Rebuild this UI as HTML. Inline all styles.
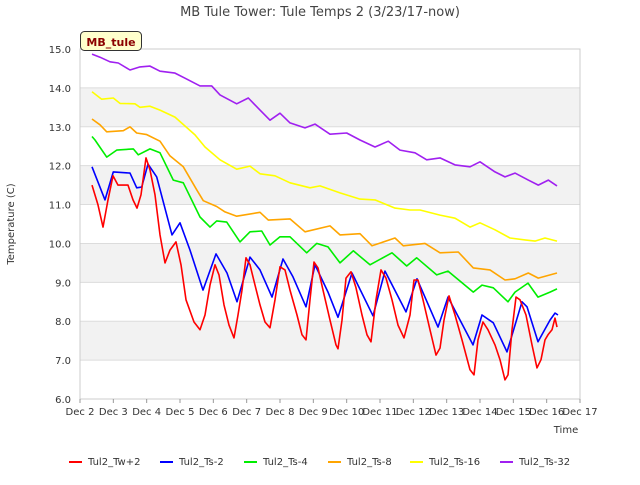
<!DOCTYPE html>
<html><head><meta charset="utf-8"><style>
body{margin:0;background:#fff;font-family:"Liberation Sans","DejaVu Sans",sans-serif}
svg text{font-family:"DejaVu Sans","Liberation Sans",sans-serif}
</style></head><body>
<svg id="c" width="640" height="480" viewBox="0 0 640 480">
<text x="320" y="16" text-anchor="middle" font-size="13" fill="#444">MB Tule Tower: Tule Temps 2 (3/23/17-now)</text>
<g id="plot"></g>
<text x="14" y="224" transform="rotate(-90 14 224)" text-anchor="middle" font-size="10" fill="#333">Temperature (C)</text>
<text x="566" y="433" text-anchor="middle" font-size="10" fill="#333">Time</text>
<g><rect x="80.5" y="31.5" width="61" height="19" rx="4" fill="#ffffcc" stroke="#333"/><text x="111" y="46" text-anchor="middle" font-size="11" font-weight="bold" fill="#8b0000">MB_tule</text></g>
<g id="legend"></g>
</svg>
<script>
const yTicks=[6,7,8,9,10,11,12,13,14,15];
const xTickLabels=["Dec 2","Dec 3","Dec 4","Dec 5","Dec 6","Dec 7","Dec 8","Dec 9","Dec 10","Dec 11","Dec 12","Dec 13","Dec 14","Dec 15","Dec 16","Dec 17"];
const seriesNames=["Tul2_Tw+2","Tul2_Ts-2","Tul2_Ts-4","Tul2_Ts-8","Tul2_Ts-16","Tul2_Ts-32"];
const colors=["#ff0000","#0000ff","#00ee00","#ffa500","#ffff00","#a020f0"];
const twDays=[2.36,2.54,2.69,2.84,2.99,3.14,3.29,3.44,3.59,3.71,3.83,3.98,4.10,4.25,4.40,4.55,4.70,4.88,5.03,5.18,5.42,5.60,5.75,5.90,6.05,6.17,6.32,6.47,6.62,6.74,6.86,6.98,7.10,7.25,7.40,7.55,7.70,7.85,8.00,8.15,8.30,8.51,8.66,8.78,8.90,9.02,9.14,9.29,9.50,9.68,9.74,9.86,9.98,10.13,10.28,10.46,10.61,10.73,10.88,11.03,11.18,11.36,11.54,11.72,11.90,12.02,12.14,12.29,12.50,12.68,12.80,12.92,13.07,13.25,13.46,13.70,13.82,13.94,14.09,14.24,14.45,14.60,14.75,14.84,14.96,15.08,15.20,15.38,15.56,15.71,15.83,15.95,16.04,16.16,16.25,16.31];
const twVals=[11.50,10.99,10.42,11.12,11.74,11.50,11.50,11.50,11.12,10.91,11.25,12.20,11.89,11.25,10.22,9.50,9.83,10.04,9.45,8.55,7.98,7.78,8.16,8.93,9.45,9.19,8.42,7.90,7.57,8.16,8.80,9.63,9.45,8.93,8.42,7.98,7.83,8.55,9.40,9.32,8.80,8.16,7.65,7.52,8.55,9.52,9.37,8.80,8.03,7.39,7.29,8.03,9.11,9.27,8.86,8.16,7.65,7.47,8.55,9.32,9.11,8.55,7.90,7.57,8.16,9.06,9.06,8.55,7.78,7.13,7.31,8.03,8.65,8.16,7.52,6.75,6.62,7.52,7.98,7.78,7.39,7.01,6.49,6.62,7.78,8.62,8.55,8.16,7.39,6.80,7.01,7.52,7.65,7.78,8.08,7.85];
const ts2Days=[2.36,2.75,3.0,3.5,3.7,3.85,4.04,4.3,4.76,5.0,5.3,5.69,6.08,6.41,6.71,7.1,7.4,7.76,8.09,8.39,8.78,9.05,9.44,9.74,10.16,10.79,11.15,11.78,12.11,12.74,13.04,13.79,14.06,14.4,14.81,15.26,15.41,15.74,16.1,16.25,16.34];
const ts2Vals=[11.97,11.12,11.84,11.81,11.43,11.45,12.04,11.71,10.22,10.53,9.83,8.8,9.73,9.24,8.5,9.65,9.32,8.62,9.6,9.14,8.37,9.45,8.75,8.1,9.24,8.14,9.29,8.24,9.09,7.85,8.62,7.39,8.16,7.96,7.21,8.5,8.37,7.47,8.03,8.21,8.16];
const ts4Days=[2.36,2.45,2.8,3.1,3.6,3.75,4.1,4.4,4.8,5.1,5.6,5.9,6.1,6.4,6.8,7.1,7.45,7.7,8.0,8.3,8.8,9.1,9.44,9.8,10.2,10.7,11.36,11.8,12.1,12.7,13.04,13.8,14.06,14.4,14.84,15.05,15.44,15.74,16.1,16.31];
const ts4Vals=[12.75,12.66,12.22,12.4,12.43,12.28,12.43,12.33,11.63,11.56,10.68,10.42,10.58,10.55,10.04,10.3,10.32,9.96,10.17,10.17,9.76,10.0,9.91,9.5,9.81,9.45,9.76,9.42,9.63,9.19,9.29,8.75,8.93,8.86,8.5,8.75,8.98,8.62,8.75,8.83];
const ts8Days=[2.36,2.6,2.8,3.3,3.5,3.7,4.0,4.4,4.7,5.1,5.5,5.7,6.1,6.35,6.7,7.4,7.65,8.3,8.75,9.5,9.8,10.4,10.76,11.45,11.7,12.35,12.8,13.35,13.8,14.3,14.75,15.05,15.45,15.75,16.31];
const ts8Vals=[13.2,13.05,12.87,12.9,13.0,12.84,12.8,12.63,12.25,11.97,11.38,11.1,10.95,10.81,10.7,10.8,10.6,10.63,10.3,10.45,10.22,10.25,9.94,10.14,9.94,10.0,9.76,9.78,9.37,9.32,9.06,9.09,9.24,9.11,9.24];
const ts16Days=[2.36,2.65,3.0,3.2,3.65,3.8,4.1,4.4,4.85,5.45,5.75,6.2,6.7,7.1,7.4,7.85,8.3,8.9,9.2,9.8,10.4,10.85,11.45,11.9,12.2,12.8,13.25,13.7,14.0,14.45,14.9,15.35,15.65,15.95,16.31];
const ts16Vals=[13.9,13.71,13.74,13.6,13.59,13.5,13.53,13.43,13.25,12.79,12.48,12.15,11.91,11.99,11.79,11.74,11.56,11.43,11.48,11.3,11.14,11.12,10.91,10.86,10.86,10.73,10.65,10.42,10.53,10.35,10.14,10.09,10.06,10.14,10.06];
const ts32Days=[2.36,2.6,2.9,3.15,3.5,3.8,4.1,4.4,4.85,5.15,5.6,5.95,6.2,6.7,7.05,7.4,7.7,8.0,8.3,8.75,9.05,9.5,10.0,10.4,10.85,11.25,11.6,12.05,12.4,12.8,13.25,13.7,14.0,14.45,14.75,15.05,15.45,15.75,16.05,16.31];
const ts32Vals=[14.87,14.79,14.67,14.64,14.46,14.54,14.56,14.43,14.38,14.25,14.05,14.05,13.82,13.59,13.74,13.43,13.17,13.35,13.1,12.97,13.07,12.81,12.84,12.66,12.48,12.63,12.4,12.33,12.15,12.2,12.02,11.97,12.1,11.84,11.71,11.81,11.63,11.5,11.63,11.48];
const NS="http://www.w3.org/2000/svg";
const X0=80,X1=580,Y0=399,Y1=49,D0=2,D1=17,V0=6,V1=15;
const sx=d=>X0+(d-D0)/(D1-D0)*(X1-X0);
const sy=v=>Y0-(v-V0)/(V1-V0)*(Y0-Y1);
function mk(t,a,p){const e=document.createElementNS(NS,t);for(const k in a)e.setAttribute(k,a[k]);p.appendChild(e);return e;}
const plot=document.getElementById('plot');
for(let v=7;v<15;v+=2){const r=mk('rect',{x:X0,y:sy(v+1),width:X1-X0,height:sy(v)-sy(v+1),fill:'#f2f2f2'},plot);

}
yTicks.forEach(v=>{const l=mk('line',{x1:X0,x2:X1,y1:sy(v),y2:sy(v),stroke:'#dcdcdc'},plot);


const t=mk('text',{x:X0-9,y:sy(v)+4,'text-anchor':'end','font-size':'10',fill:'#333'},plot);t.textContent=v.toFixed(1);

});
const fr=mk('rect',{x:X0,y:Y1,width:X1-X0,height:Y0-Y1,fill:'none',stroke:'#ccc'},plot);


xTickLabels.forEach((s,i)=>{const x=sx(D0+i);mk('line',{x1:x,x2:x,y1:Y0,y2:Y0+4,stroke:'#999'},plot);
const t=mk('text',{x:x,y:Y0+16,'text-anchor':'middle','font-size':'10',fill:'#333'},plot);t.textContent=s;

});
const allDays=[twDays,ts2Days,ts4Days,ts8Days,ts16Days,ts32Days];
const allVals=[twVals,ts2Vals,ts4Vals,ts8Vals,ts16Vals,ts32Vals];
for(let s=5;s>=0;s--){const d=allDays[s].map((dd,i)=>(i?'L':'M')+sx(dd).toFixed(1)+','+sy(allVals[s][i]).toFixed(1)).join('');
const p=mk('path',{d:d,fill:'none',stroke:colors[s],'stroke-width':'1.6','stroke-linejoin':'round'},plot);

}
const lg=document.getElementById('legend');
const lx=[69,160,244,328,410,500];
seriesNames.forEach((n,i)=>{const g=mk('g',{},lg);


mk('line',{x1:lx[i],x2:lx[i]+13,y1:462,y2:462,stroke:colors[i],'stroke-width':'2'},g);
const t=mk('text',{x:lx[i]+19,y:465,'font-size':'10',fill:'#333'},g);t.textContent=n;});
</script>
</body></html>
